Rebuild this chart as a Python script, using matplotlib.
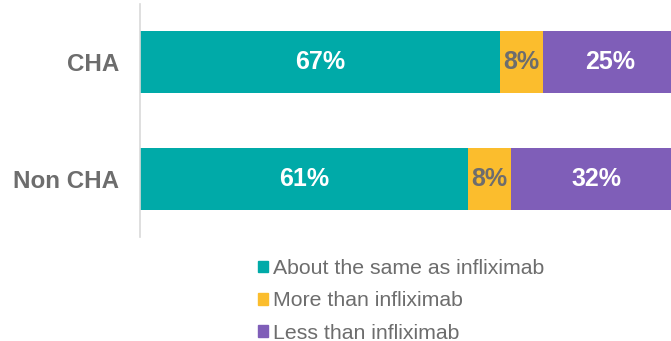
import matplotlib.pyplot as plt
from matplotlib.patches import Patch

plt.rcParams['font.family'] = ['Liberation Sans', 'DejaVu Sans']

groups = ['Non CHA', 'CHA']
same = [61, 67]
more = [8, 8]
less = [32, 25]
series_names = ['About the same as infliximab', 'More than infliximab', 'Less than infliximab']
colors = ['#00aaa8', '#fbbd2d', '#7f5eb8']
label_colors = ['white', '#6d6d6d', 'white']
grey = '#6d6d6d'

fig = plt.figure(figsize=(6.71, 3.41), dpi=100)
ax = fig.add_axes([140 / 671, 104 / 341, 537 / 671, 233 / 341])

left = [0, 0]
for vals, c, tc, name in zip([same, more, less], colors, label_colors, series_names):
    bars = ax.barh(groups, vals, left=left, height=0.53, color=c, label=name)
    for b, v in zip(bars, vals):
        ax.text(b.get_x() + b.get_width() / 2, b.get_y() + b.get_height() / 2,
                f'{v}%', ha='center', va='center', color=tc,
                fontsize=18, fontweight='bold')
    left = [l + v for l, v in zip(left, vals)]

ax.set_xlim(0, 100)
ax.set_ylim(-0.5, 1.5)
ax.set_xticks([])
for s in ['top', 'right', 'bottom']:
    ax.spines[s].set_visible(False)
ax.spines['left'].set_color('#d9d9d9')
ax.spines['left'].set_linewidth(1.2)
ax.tick_params(axis='y', length=0, pad=15)
for t in ax.get_yticklabels():
    t.set_fontsize(17.4)
    t.set_fontweight('bold')
    t.set_color(grey)

handles = [Patch(color=c) for c in colors]
leg = fig.legend(handles, series_names, loc='upper left',
                 bbox_to_anchor=(258 / 671, 1 - 259 / 341), frameon=False,
                 fontsize=15.3, handlelength=0.47, handleheight=0.47,
                 handletextpad=0.25, labelspacing=0.63, borderpad=0,
                 borderaxespad=0)
for t in leg.get_texts():
    t.set_color(grey)

fig.savefig('out.png', dpi=100)
